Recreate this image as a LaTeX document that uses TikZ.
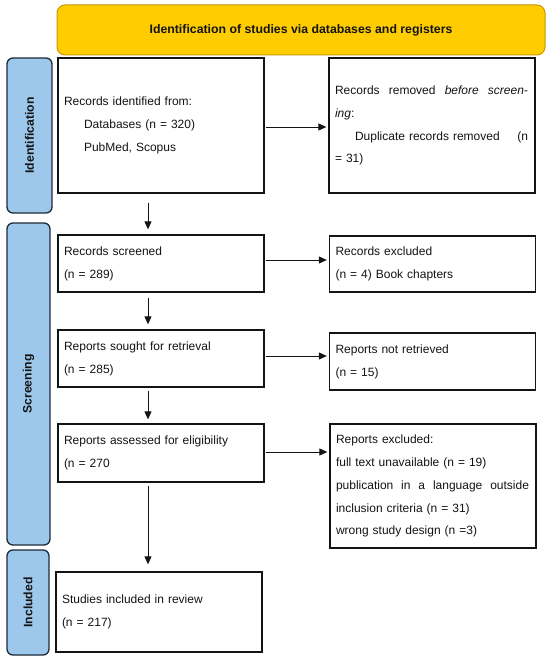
\documentclass[tikz,border=0pt]{standalone}
\usepackage{fontspec}
\setmainfont{Liberation Sans}
\usetikzlibrary{arrows.meta,calc}
\definecolor{bannerfill}{HTML}{FFCC00}
\definecolor{bannerline}{HTML}{C99A00}
\definecolor{tabfill}{HTML}{9DC8EC}
\definecolor{tabline}{HTML}{1E2B3A}
\definecolor{ink}{HTML}{141414}
\tikzset{
  box/.style={draw=ink, line width=1.3pt, fill=white, inner xsep=6pt, inner ysep=0pt,
    align=left, text=ink, font=\fontsize{12}{22.9}\selectfont,
    minimum width=206pt, text width=194pt},
  sidetab/.style={draw=tabline, fill=tabfill, line width=1.3pt, rounded corners=6pt,
    rotate=90, text=ink, font=\bfseries\fontsize{12.2}{14}\selectfont, inner sep=0pt},
  arr/.style={-{Triangle[length=8pt,width=7pt]}, line width=0.9pt, draw=ink}
}
\begin{document}
\begin{tikzpicture}[x=1pt,y=1pt]
\useasboundingbox (0,0) rectangle (550,-660);
\fill[white] (0,0) rectangle (550,-660);

% banner
\node[draw=bannerline, fill=bannerfill, rounded corners=8pt, line width=1pt,
  minimum width=488pt, minimum height=50pt, text=ink,
  font=\bfseries\fontsize{12.3}{14}\selectfont] (title) at (301,-30)
  {Identification of studies via databases and registers};

% side tabs
\node[sidetab, minimum width=155pt, minimum height=45pt] (t1) at (29.5,-135.5) {Identification};
\node[sidetab, minimum width=322pt, minimum height=43pt] (t2) at (28.5,-384) {Screening};
\node[sidetab, minimum width=105pt, minimum height=42pt] (t3) at (28,-602.5) {Included};

% left column
\node[box, minimum height=135pt] (b1) at (161,-125.5)
  {Records identified from:\\
   \hspace*{20pt}Databases (n = 320)\\
   \hspace*{20pt}PubMed, Scopus};
\node[box, minimum height=57pt] (scr) at (161,-263.5)
  {Records screened\\(n = 289)};
\node[box, minimum height=57pt] (sought) at (161,-358.5)
  {Reports sought for retrieval\\(n = 285)};
\node[box, minimum height=58pt] (assess) at (161,-453)
  {Reports assessed for eligibility\\(n = 270};
\node[box, minimum height=80pt] (incl) at (159,-612)
  {Studies included in review\\(n = 217)};

% right column
\node[box, minimum height=135pt] (rem) at (432,-125.5)
  {\makebox[193pt][l]{Records\hfill removed\hfill \textit{before}\hfill \textit{screen-}}\\
   \textit{ing}:\\
   \hspace*{20pt}\makebox[173pt][l]{Duplicate records removed\hfill(n}\\
   = 31)};
\node[box, minimum height=56pt] (rexcl) at (432.5,-264)
  {Records excluded\\(n = 4) Book chapters};
\node[box, minimum height=57pt] (notret) at (432.5,-361.5)
  {Reports not retrieved\\(n = 15)};
\node[box, minimum height=124pt] (repexcl) at (433,-486)
  {Reports excluded:\\
   full text unavailable (n = 19)\\
   \makebox[193pt][l]{publication\hfill in\hfill a\hfill language\hfill outside}\\
   inclusion criteria (n = 31)\\
   wrong study design (n =3)};

% connectors
\coordinate (ax) at (148,0);
\draw[arr] ($(b1.south -| ax)+(0,-9)$) -- ($(scr.north -| ax)+(0,5)$);
\draw[arr] ($(scr.south -| ax)+(0,-5)$) -- ($(sought.north -| ax)+(0,5)$);
\draw[arr] ($(sought.south -| ax)+(0,-3)$) -- ($(assess.north -| ax)+(0,4)$);
\draw[arr] ($(assess.south -| ax)+(0,-3)$) -- ($(incl.north -| ax)+(0,7)$);

\coordinate (h1) at (0,-127);
\coordinate (h2) at (0,-260);
\coordinate (h3) at (0,-356);
\coordinate (h4) at (0,-452);
\draw[arr] ($(b1.east |- h1)+(1,0)$) -- ($(rem.west |- h1)+(-2,0)$);
\draw[arr] ($(scr.east |- h2)+(1,0)$) -- ($(rexcl.west |- h2)+(-2,0)$);
\draw[arr] ($(sought.east |- h3)+(1,0)$) -- ($(notret.west |- h3)+(-2,0)$);
\draw[arr] ($(assess.east |- h4)+(1,0)$) -- ($(repexcl.west |- h4)+(-2,0)$);
\end{tikzpicture}
\end{document}
